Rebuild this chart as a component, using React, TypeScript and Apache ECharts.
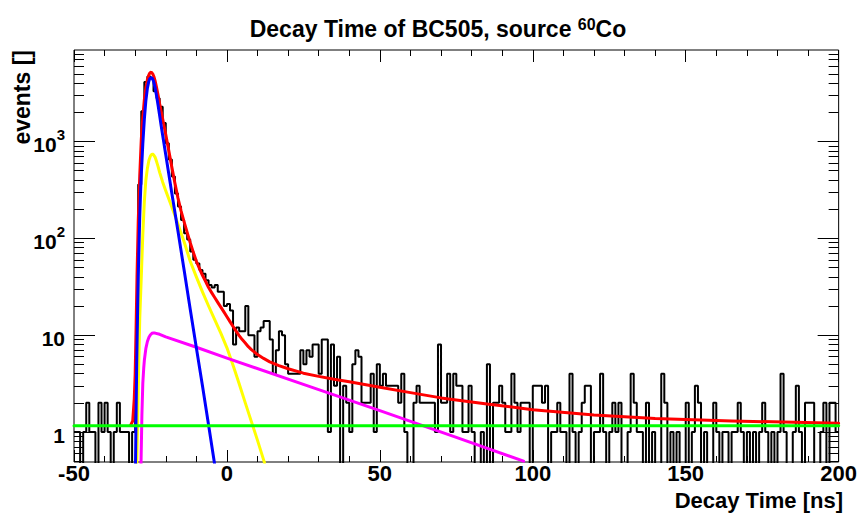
import React, { useEffect, useRef } from "react";
import * as echarts from "echarts";

// ---------- data ----------
const BIN_START = -50; // ns, left edge of first bin
const BIN_WIDTH = 1; // ns
// counts per 1 ns bin, from -50 to 200 ns
const counts: number[] = [
  // -50 .. -31
  1, 1, 0, 1, 2, 1, 1, 0, 2, 1, 2, 1, 0, 1, 2, 1, 1, 1, 0, 1,
  // -30 .. -11
  4, 360, 2050, 4100, 4700, 4500, 3300, 2800, 2280, 1550, 960, 650, 435, 290, 213, 155, 113, 97, 73, 60,
  // -10 .. 9
  55, 47, 43, 37, 33, 31, 33, 28, 28, 20, 21, 18, 8, 12, 11, 11, 20, 10, 10, 6,
  // 10 .. 29
  11, 12, 14, 14, 9, 4, 7, 11, 10, 5, 4, 4, 4, 4, 7, 5, 7, 6, 8, 8,
  // 30 .. 49
  4, 9, 9, 1, 8, 3, 6, 0, 3, 2, 1, 5, 7, 6, 2, 2, 2, 4, 1, 5,
  // 50 .. 69
  3, 4, 3, 3, 3, 3, 2, 4, 1, 0, 0, 2, 3, 2, 2, 2, 2, 2, 1, 8,
  // 70 .. 89
  2, 2, 4, 1, 4, 3, 3, 1, 1, 3, 1, 0, 0, 1, 0, 5, 0, 2, 2, 3,
  // 90 .. 109
  2, 1, 1, 4, 2, 1, 2, 2, 2, 0, 3, 3, 3, 2, 3, 0, 1, 1, 2, 1,
  // 110 .. 129
  1, 0, 4, 1, 0, 1, 2, 3, 3, 0, 1, 1, 4, 1, 0, 1, 2, 1, 2, 0,
  // 130 .. 149
  0, 1, 4, 2, 1, 1, 0, 2, 0, 1, 0, 0, 4, 2, 0, 1, 0, 1, 0, 0,
  // 150 .. 169
  2, 0, 1, 3, 2, 0, 1, 0, 0, 2, 1, 0, 1, 1, 0, 1, 1, 2, 1, 0,
  // 170 .. 189
  1, 0, 1, 0, 1, 2, 1, 0, 1, 0, 1, 4, 1, 0, 0, 1, 3, 1, 0, 2,
  // 190 .. 199
  2, 2, 0, 0, 1, 2, 0, 2, 2, 1,
];

// fit curves: [time ns, events]
const fitTotal: [number, number][] = [
  [-31.5, 1.17], [-30.8, 1.3], [-30.3, 2.2], [-30, 4], [-29.7, 12], [-29.4, 40], [-29, 150],
  [-28.5, 450], [-28, 1050], [-27.5, 1800], [-27, 2700], [-26.5, 3600], [-26, 4350], [-25.5, 4900],
  [-25.2, 5100], [-24.9, 5170], [-24.6, 5150], [-24.2, 4950], [-23.8, 4600], [-23.5, 4250], [-23, 3600],
  [-22.5, 3000], [-22, 2450], [-21.5, 2050], [-21, 1700], [-20.5, 1420], [-20, 1180], [-19, 800],
  [-18, 540], [-17, 370], [-16, 260], [-15, 192], [-14, 148], [-13, 115], [-12, 90], [-11, 72],
  [-10, 58], [-9, 49], [-8, 41.5], [-7, 36], [-6, 31], [-5, 27.5], [-4, 24.5], [-3, 21.8], [-2, 19.5],
  [-1, 17.4], [0, 15.5], [1, 13.8], [2, 12.3], [3, 11], [4, 9.9], [5, 9], [6, 8.3], [7, 7.6], [8, 7.1],
  [10, 6.3], [12, 5.75], [14, 5.3], [17, 4.85], [20, 4.5], [25, 4.05], [30, 3.75], [35, 3.5], [40, 3.3],
  [50, 2.9], [60, 2.55], [70, 2.25], [85, 1.95], [100, 1.7], [120, 1.5], [140, 1.38], [165, 1.3],
  [200, 1.23],
];
const fitFast: [number, number][] = [
  [-29.9, 0.45], [-29.7, 1.5], [-29.5, 5], [-29.2, 18], [-29, 40], [-28.7, 95], [-28.5, 170],
  [-28.2, 320], [-28, 450], [-27.5, 950], [-27, 1700], [-26.5, 2650], [-26, 3550], [-25.6, 4100],
  [-25.3, 4400], [-25, 4520], [-24.7, 4560], [-24.4, 4480], [-24, 4200], [-23.5, 3600], [-23, 2950],
  [-22.5, 2350], [-22, 1850], [-21.5, 1450], [-21, 1150], [-20, 730], [-18, 290], [-16, 118], [-14, 47],
  [-12, 18.5], [-10, 7.4], [-8, 3.0], [-6, 1.18], [-4, 0.46],
];
const fitMedium: [number, number][] = [
  [-29.5, 0.45], [-29.2, 1.3], [-29, 3], [-28.7, 7.5], [-28.5, 15], [-28.2, 27], [-28, 40],
  [-27.5, 110], [-27, 240], [-26.5, 400], [-26, 530], [-25.5, 640], [-25, 710], [-24.6, 735],
  [-24.3, 740], [-24, 730], [-23.5, 690], [-23, 620], [-22.5, 550], [-22, 480], [-21, 380],
  [-20, 310], [-19, 255], [-18, 210], [-17, 172], [-16, 140], [-14, 92], [-12, 58], [-10, 40],
  [-8, 28], [-6, 20], [-4, 14.5], [-2, 10.5], [0, 7.4], [2, 4.9], [4, 3.15], [6, 2.0], [8, 1.28],
  [10, 0.82], [12.3, 0.48],
];
const fitSlow: [number, number][] = [
  [-28.1, 0.45], [-27.9, 1.0], [-27.8, 1.5], [-27.5, 3.2], [-27.2, 4.6], [-27, 5.5], [-26.5, 7.3],
  [-26, 8.6], [-25.5, 9.5], [-25, 10.1], [-24.5, 10.45], [-24, 10.55], [-23.5, 10.5], [-22, 10.2],
  [-20, 9.6], [-10, 7.5], [0, 5.8], [25, 3.1], [50, 1.66], [75, 0.88], [97, 0.5],
];
const background = 1.16;

const X_MIN = -50;
const X_MAX = 200;
const X_STEP = 50;
const Y_MIN = 0.49;
const Y_MAX = 8800;
const Y_MAJOR = [1, 10, 100, 1000];
const Y_MINOR = [
  0.5, 0.6, 0.7, 0.8, 0.9,
  2, 3, 4, 5, 6, 7, 8, 9,
  20, 30, 40, 50, 60, 70, 80, 90,
  200, 300, 400, 500, 600, 700, 800, 900,
  2000, 3000, 4000, 5000, 6000, 7000, 8000,
];

const TITLE_MAIN = "Decay Time of BC505, source ";
const TITLE_SUP = "60";
const TITLE_END = "Co";
const X_TITLE = "Decay Time [ns]";
const Y_TITLE = "events []";

const FONT = '"Liberation Sans", Arial, Helvetica, sans-serif';

export default function App() {
  const ref = useRef<HTMLDivElement>(null);

  useEffect(() => {
    if (!ref.current) return;
    const chart = echarts.init(ref.current, undefined, { renderer: "svg" });

    const zeroFloor = 0.05; // empty bins drawn below the axis, clipped
    const histData: [number, number][] = counts.map((c, i) => [
      BIN_START + i * BIN_WIDTH,
      c > 0 ? c : zeroFloor,
    ]);
    const lastC = counts[counts.length - 1];
    histData.push([BIN_START + counts.length * BIN_WIDTH, lastC > 0 ? lastC : zeroFloor]);

    const xBase = {
      type: "value" as const,
      min: X_MIN,
      max: X_MAX,
      interval: X_STEP,
      axisLine: { show: false, onZero: false },
      splitLine: { show: false },
      minorSplitLine: { show: false },
      axisTick: { show: true, inside: true, length: 12, lineStyle: { color: "#000", width: 1 } },
      minorTick: { show: true, splitNumber: 5, length: 6, lineStyle: { color: "#000", width: 1 } },
    };

    const yBase = {
      type: "log" as const,
      logBase: 10,
      min: Y_MIN,
      max: Y_MAX,
      axisLine: { show: false, onZero: false },
      splitLine: { show: false },
      minorTick: { show: false },
      minorSplitLine: { show: false },
    };

    const yLabel = {
      show: true,
      customValues: Y_MAJOR,
      margin: 9,
      formatter: (v: number) => {
        const e = Math.round(Math.log10(v));
        if (e <= 1) return "{b|" + String(Math.round(v)) + "}";
        return "{b|10}{s|" + e + "}";
      },
      rich: {
        b: {
          fontSize: 21,
          fontWeight: "bold",
          fontFamily: FONT,
          color: "#000",
          verticalAlign: "bottom",
          padding: [7, 0, 0, 0],
        },
        s: {
          fontSize: 15,
          fontWeight: "bold",
          fontFamily: FONT,
          color: "#000",
          verticalAlign: "top",
          padding: [0, 0, 6, 0],
        },
      },
    };

    const fitLine = (data: [number, number][], color: string, z: number) => ({
      type: "line" as const,
      data,
      xAxisIndex: 0,
      yAxisIndex: 0,
      showSymbol: false,
      symbol: "none",
      smooth: false,
      lineStyle: { color, width: 3, join: "round", cap: "round" },
      clip: true,
      z,
      silent: true,
    });

    const option: any = {
      animation: false,
      backgroundColor: "#fff",
      grid: {
        left: 74,
        top: 50,
        right: 18,
        bottom: 53,
        show: true,
        borderColor: "#000",
        borderWidth: 1,
        backgroundColor: "transparent",
        containLabel: false,
      },
      xAxis: [
        {
          ...xBase,
          position: "bottom",
          axisLabel: {
            show: true,
            margin: 2,
            fontSize: 22,
            lineHeight: 18,
            fontWeight: "bold",
            fontFamily: FONT,
            color: "#000",
            showMinLabel: true,
            showMaxLabel: true,
          },
        },
        { ...xBase, position: "top", axisLabel: { show: false } },
      ],
      yAxis: [
        {
          ...yBase,
          position: "left",
          axisTick: { show: true, inside: true, length: 21, customValues: Y_MAJOR, lineStyle: { color: "#000", width: 1 } },
          axisLabel: yLabel,
        },
        {
          ...yBase,
          position: "left",
          axisTick: { show: true, inside: true, length: 10, customValues: Y_MINOR, lineStyle: { color: "#000", width: 1 } },
          axisLabel: { show: false },
        },
        {
          ...yBase,
          position: "right",
          axisTick: { show: true, inside: true, length: 21, customValues: Y_MAJOR, lineStyle: { color: "#000", width: 1 } },
          axisLabel: { show: false },
        },
        {
          ...yBase,
          position: "right",
          axisTick: { show: true, inside: true, length: 10, customValues: Y_MINOR, lineStyle: { color: "#000", width: 1 } },
          axisLabel: { show: false },
        },
      ],
      series: [
        {
          type: "line",
          name: "hist",
          data: histData,
          xAxisIndex: 0,
          yAxisIndex: 0,
          step: "end",
          showSymbol: false,
          symbol: "none",
          lineStyle: { color: "#000", width: 2 },
          clip: true,
          z: 2,
          silent: true,
        },
        fitLine(fitTotal, "#ff0000", 3),
        fitLine(fitMedium, "#ffff00", 4),
        fitLine(fitSlow, "#ff00ff", 4),
        fitLine(fitFast, "#0000ff", 5),
        fitLine([[X_MIN, background], [X_MAX, background]], "#00ff00", 6),
      ],
      graphic: [
        {
          type: "text",
          x: 438,
          y: 28,
          style: {
            text: "{t|" + TITLE_MAIN + "}{s|" + TITLE_SUP + "}{t|" + TITLE_END + "}",
            align: "center",
            verticalAlign: "middle",
            textAlign: "center",
            textVerticalAlign: "middle",
            rich: {
              t: { fontSize: 23, fontWeight: "bold", fontFamily: FONT, fill: "#000", color: "#000", verticalAlign: "bottom" },
              s: { fontSize: 16, fontWeight: "bold", fontFamily: FONT, fill: "#000", color: "#000", verticalAlign: "top", padding: [0, 0, 8, 0] },
            },
          },
        },
        {
          type: "text",
          x: 843,
          y: 500,
          style: {
            text: X_TITLE,
            font: "bold 22px " + FONT,
            lineHeight: 20,
            fill: "#000",
            align: "right",
            verticalAlign: "middle",
            textAlign: "right",
            textVerticalAlign: "middle",
          },
        },
        {
          type: "text",
          x: 22,
          y: 50,
          rotation: Math.PI / 2,
          style: {
            text: Y_TITLE,
            font: "bold 23px " + FONT,
            fill: "#000",
            align: "right",
            verticalAlign: "middle",
            textAlign: "right",
            textVerticalAlign: "middle",
          },
        },
      ],
    };

    chart.setOption(option);
    return () => {
      chart.dispose();
    };
  }, []);

  return (
    <div
      ref={ref}
      style={{ position: "fixed", left: 0, top: 0, width: 860, height: 515, background: "#fff" }}
    />
  );
}
